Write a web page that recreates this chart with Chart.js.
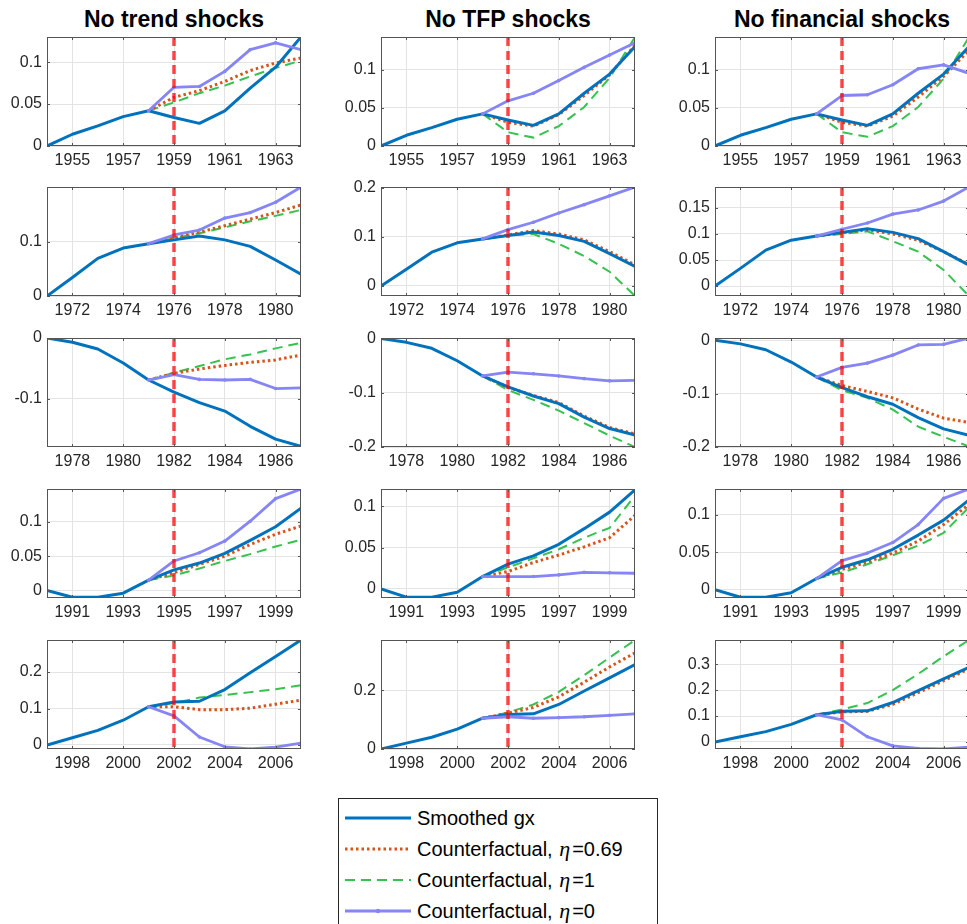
<!DOCTYPE html>
<html>
<head>
<meta charset="utf-8">
<script src="https://cdn.jsdelivr.net/npm/chart.js@4.4.1/dist/chart.umd.min.js"></script>
<style>
html,body{margin:0;padding:0;background:#fff;overflow:hidden;width:967px;height:924px;}
body{position:relative;font-family:"Liberation Sans",Arial,Helvetica,sans-serif;}
.title{position:absolute;top:6px;width:254px;text-align:center;font-weight:bold;font-size:23px;line-height:26px;color:#000;white-space:nowrap;}
.panel{position:absolute;}
#legend{position:absolute;left:338px;top:798px;width:320px;height:130px;border:1px solid #262626;background:#fff;box-sizing:border-box;}
.item{position:absolute;left:6px;height:30px;display:flex;align-items:center;font-size:20px;color:#000;white-space:nowrap;}
.item svg{margin-right:6px;}
.eta{font-family:"Liberation Serif","DejaVu Serif",serif;font-style:italic;font-size:22px;margin:0 2px 0 1px;}
</style>
</head>
<body>
<div class="title" style="left:47px">No trend shocks</div>
<div class="title" style="left:381px">No TFP shocks</div>
<div class="title" style="left:715px">No financial shocks</div>

<div id="legend">
  <div class="item" style="top:4px"><svg width="66" height="30"><line x1="0" y1="15" x2="66" y2="15" stroke="#0072BD" stroke-width="3"/></svg><span>Smoothed gx</span></div>
  <div class="item" style="top:35px"><svg width="66" height="30"><line x1="0" y1="15" x2="66" y2="15" stroke="#D95319" stroke-width="3" stroke-dasharray="2.5,3"/></svg><span>Counterfactual, <span class="eta">η</span>=0.69</span></div>
  <div class="item" style="top:66px"><svg width="66" height="30"><line x1="0" y1="15" x2="66" y2="15" stroke="#35c24f" stroke-width="2" stroke-dasharray="10,6"/></svg><span>Counterfactual, <span class="eta">η</span>=1</span></div>
  <div class="item" style="top:97px"><svg width="66" height="30"><line x1="0" y1="15" x2="66" y2="15" stroke="#8585f5" stroke-width="2.8"/><circle cx="33" cy="15" r="2.2" fill="#8585f5"/></svg><span>Counterfactual, <span class="eta">η</span>=0</span></div>
</div>

<script>
// ---------------- DATA ----------------
const columnTitles = ["No trend shocks", "No TFP shocks", "No financial shocks"];

// Row 1
const years1   = [1954,1955,1956,1957,1958,1959,1960,1961,1962,1963,1964];
const cfYears1 = [1958,1959,1960,1961,1962,1963,1964];
const shock1 = 1959;
const xTicks1 = [1955,1957,1959,1961,1963];
const gx1 = [0,0.014,0.024,0.035,0.042,0.034,0.027,0.042,0.069,0.094,0.130];
const trend1_eta069 = [0.042,0.058,0.066,0.077,0.090,0.099,0.105];
const trend1_eta1   = [0.042,0.052,0.063,0.072,0.083,0.093,0.102];
const trend1_eta0   = [0.042,0.070,0.071,0.089,0.115,0.123,0.115];
const tfp1_eta069   = [0.042,0.031,0.026,0.041,0.066,0.093,0.132];
const tfp1_eta1     = [0.042,0.018,0.011,0.026,0.051,0.089,0.1425];
const tfp1_eta0     = [0.042,0.059,0.069,0.0855,0.103,0.119,0.135];
const fin1_eta069   = [0.042,0.031,0.026,0.039,0.064,0.091,0.125];
const fin1_eta1     = [0.042,0.018,0.012,0.026,0.051,0.088,0.1425];
const fin1_eta0     = [0.042,0.066,0.067,0.080,0.101,0.106,0.095];

// Row 2
const years2   = [1971,1972,1973,1974,1975,1976,1977,1978,1979,1980,1981];
const cfYears2 = [1975,1976,1977,1978,1979,1980,1981];
const shock2 = 1976;
const xTicks2 = [1972,1974,1976,1978,1980];
const gx2 = [0,0.034,0.069,0.088,0.096,0.103,0.110,0.103,0.091,0.066,0.040];
const trend2_eta069 = [0.096,0.107,0.117,0.129,0.141,0.153,0.167];
const trend2_eta1   = [0.096,0.106,0.115,0.126,0.137,0.147,0.158];
const trend2_eta0   = [0.096,0.112,0.121,0.143,0.153,0.172,0.200];
const tfp2_eta069   = [0.096,0.104,0.113,0.106,0.094,0.070,0.043];
const tfp2_eta1     = [0.096,0.103,0.106,0.086,0.061,0.029,-0.0205];
const tfp2_eta0     = [0.096,0.115,0.130,0.149,0.166,0.184,0.202];
const fin2_eta069   = [0.096,0.102,0.108,0.100,0.088,0.066,0.041];
const fin2_eta1     = [0.096,0.100,0.105,0.086,0.066,0.031,-0.019];
const fin2_eta0     = [0.096,0.109,0.121,0.138,0.146,0.163,0.190];

// Row 3
const years3   = [1977,1978,1979,1980,1981,1982,1983,1984,1985,1986,1987];
const cfYears3 = [1981,1982,1983,1984,1985,1986,1987];
const shock3 = 1982;
const xTicks3 = [1978,1980,1982,1984,1986];
const gx3 = [0,-0.007,-0.018,-0.041,-0.069,-0.089,-0.106,-0.120,-0.145,-0.166,-0.178];
const trend3_eta069 = [-0.069,-0.058,-0.051,-0.045,-0.040,-0.036,-0.028];
const trend3_eta1   = [-0.069,-0.057,-0.046,-0.035,-0.027,-0.017,-0.008];
const trend3_eta0   = [-0.069,-0.060,-0.068,-0.069,-0.068,-0.083,-0.082];
const tfp3_eta069   = [-0.069,-0.090,-0.105,-0.118,-0.143,-0.164,-0.176];
const tfp3_eta1     = [-0.069,-0.095,-0.113,-0.133,-0.156,-0.179,-0.200];
const tfp3_eta0     = [-0.069,-0.062,-0.065,-0.069,-0.074,-0.078,-0.077];
const fin3_eta069   = [-0.069,-0.085,-0.096,-0.108,-0.129,-0.146,-0.154];
const fin3_eta1     = [-0.069,-0.094,-0.108,-0.130,-0.162,-0.181,-0.199];
const fin3_eta0     = [-0.069,-0.051,-0.043,-0.028,-0.009,-0.008,0.004];

// Row 4
const years4   = [1990,1991,1992,1993,1994,1995,1996,1997,1998,1999,2000];
const cfYears4 = [1994,1995,1996,1997,1998,1999,2000];
const shock4 = 1995;
const xTicks4 = [1991,1993,1995,1997,1999];
const gx4 = [0,-0.010,-0.010,-0.004,0.015,0.030,0.040,0.054,0.073,0.093,0.120];
const trend4_eta069 = [0.015,0.026,0.038,0.050,0.067,0.082,0.094];
const trend4_eta1   = [0.015,0.022,0.032,0.043,0.053,0.064,0.074];
const trend4_eta0   = [0.015,0.043,0.055,0.072,0.101,0.134,0.148];
const tfp4_eta069   = [0.015,0.021,0.032,0.041,0.051,0.062,0.089];
const tfp4_eta1     = [0.015,0.026,0.037,0.048,0.062,0.074,0.113];
const tfp4_eta0     = [0.015,0.015,0.015,0.017,0.020,0.0195,0.019];
const fin4_eta069   = [0.015,0.027,0.037,0.049,0.065,0.087,0.114];
const fin4_eta1     = [0.015,0.023,0.034,0.046,0.059,0.076,0.110];
const fin4_eta0     = [0.015,0.039,0.049,0.063,0.087,0.122,0.1345];

// Row 5
const years5   = [1997,1998,1999,2000,2001,2002,2003,2004,2005,2006,2007];
const cfYears5 = [2001,2002,2003,2004,2005,2006,2007];
const shock5 = 2002;
const xTicks5 = [1998,2000,2002,2004,2006];
const gx5 = [0,0.020,0.040,0.068,0.105,0.118,0.120,0.152,0.198,0.243,0.288];
const trend5_eta069 = [0.105,0.105,0.097,0.097,0.101,0.112,0.123];
const trend5_eta1   = [0.105,0.115,0.130,0.137,0.145,0.153,0.164];
const trend5_eta0   = [0.105,0.080,0.022,-0.005,-0.011,-0.006,0.005];
const tfp5_eta069   = [0.105,0.122,0.142,0.178,0.228,0.280,0.328];
const tfp5_eta1     = [0.105,0.125,0.152,0.195,0.252,0.312,0.372];
const tfp5_eta0     = [0.105,0.110,0.105,0.107,0.110,0.115,0.120];
const fin5_eta069   = [0.105,0.116,0.118,0.145,0.190,0.236,0.282];
const fin5_eta1     = [0.105,0.125,0.150,0.200,0.262,0.330,0.393];
const fin5_eta0     = [0.105,0.085,0.020,-0.015,-0.025,-0.027,-0.020];

// y-axis limits and ticks per panel [row][col]
const yLimits = [
  [[0,0.13],[0,0.1425],[0,0.1425]],
  [[0,0.2],[-0.0205,0.202],[-0.019,0.19]],
  [[-0.179,0],[-0.2,0.001],[-0.2,0.004]],
  [[-0.011,0.148],[-0.011,0.121],[-0.011,0.1345]],
  [[-0.011,0.288],[0,0.372],[-0.027,0.393]]
];
const yTicks = [
  [[0,0.05,0.1],[0,0.05,0.1],[0,0.05,0.1]],
  [[0,0.1],[0,0.1,0.2],[0,0.05,0.1,0.15]],
  [[-0.1,0],[-0.2,-0.1,0],[-0.2,-0.1,0]],
  [[0,0.05,0.1],[0,0.05,0.1],[0,0.05,0.1]],
  [[0,0.1,0.2],[0,0.2],[0,0.1,0.2,0.3]]
];

const rows = [
  {years:years1, cfYears:cfYears1, gx:gx1, shock:shock1, xTicks:xTicks1,
   cols:[[trend1_eta069,trend1_eta1,trend1_eta0],[tfp1_eta069,tfp1_eta1,tfp1_eta0],[fin1_eta069,fin1_eta1,fin1_eta0]]},
  {years:years2, cfYears:cfYears2, gx:gx2, shock:shock2, xTicks:xTicks2,
   cols:[[trend2_eta069,trend2_eta1,trend2_eta0],[tfp2_eta069,tfp2_eta1,tfp2_eta0],[fin2_eta069,fin2_eta1,fin2_eta0]]},
  {years:years3, cfYears:cfYears3, gx:gx3, shock:shock3, xTicks:xTicks3,
   cols:[[trend3_eta069,trend3_eta1,trend3_eta0],[tfp3_eta069,tfp3_eta1,tfp3_eta0],[fin3_eta069,fin3_eta1,fin3_eta0]]},
  {years:years4, cfYears:cfYears4, gx:gx4, shock:shock4, xTicks:xTicks4,
   cols:[[trend4_eta069,trend4_eta1,trend4_eta0],[tfp4_eta069,tfp4_eta1,tfp4_eta0],[fin4_eta069,fin4_eta1,fin4_eta0]]},
  {years:years5, cfYears:cfYears5, gx:gx5, shock:shock5, xTicks:xTicks5,
   cols:[[trend5_eta069,trend5_eta1,trend5_eta0],[tfp5_eta069,tfp5_eta1,tfp5_eta0],[fin5_eta069,fin5_eta1,fin5_eta0]]}
];

// ---------------- STYLE / LAYOUT ----------------
const BLUE='#0072BD', RED='#D95319', GREEN='#35c24f', PURPLE='#8585f5';
const PLOT_LEFT=[47,381,715], PLOT_TOP=[37,187,338,489,640], PW=254, PH=109;
const YAX=45, XAX=30, PADT=12, PADR=10;
const FONT='"Liberation Sans", Arial, Helvetica, sans-serif';
Chart.defaults.font.family = FONT;

const vlinePlugin = {
  id:'vline',
  afterDatasetsDraw(chart, args, opts){
    const x = chart.scales.x.getPixelForValue(opts.value);
    const {top,bottom} = chart.chartArea;
    const ctx = chart.ctx;
    ctx.save();
    ctx.strokeStyle='rgba(255,0,0,0.72)';
    ctx.lineWidth=3.5;
    ctx.setLineDash([9,5]);
    ctx.beginPath(); ctx.moveTo(x,top); ctx.lineTo(x,bottom); ctx.stroke();
    ctx.restore();
  }
};
const boxPlugin = {
  id:'box',
  afterDraw(chart){
    const {left,right,top,bottom} = chart.chartArea;
    const ctx = chart.ctx;
    ctx.save();
    ctx.strokeStyle='#555';
    ctx.lineWidth=1;
    ctx.strokeRect(left+0.5, top+0.5, right-left-1, bottom-top-1);
    const tl=3;
    ctx.beginPath();
    chart.scales.x.ticks.forEach(t=>{
      const px=Math.round(chart.scales.x.getPixelForValue(t.value))+0.5;
      ctx.moveTo(px,bottom); ctx.lineTo(px,bottom-tl);
      ctx.moveTo(px,top); ctx.lineTo(px,top+tl);
    });
    chart.scales.y.ticks.forEach(t=>{
      const py=Math.round(chart.scales.y.getPixelForValue(t.value))+0.5;
      ctx.moveTo(left,py); ctx.lineTo(left+tl,py);
      ctx.moveTo(right,py); ctx.lineTo(right-tl,py);
    });
    ctx.stroke();
    ctx.restore();
  }
};

function pts(xs, ys){ return xs.map((x,i)=>({x:x, y:ys[i]})); }

function makePanel(r, c){
  const row = rows[r];
  const [cfRed, cfGreen, cfPurple] = row.cols[c];
  const div=document.createElement('div');
  div.className='panel';
  div.style.left=(PLOT_LEFT[c]-YAX)+'px';
  div.style.top=(PLOT_TOP[r]-PADT)+'px';
  const cv=document.createElement('canvas');
  const W=YAX+PW+PADR, H=PADT+PH+XAX;
  cv.width=W; cv.height=H; cv.style.width=W+'px'; cv.style.height=H+'px';
  div.appendChild(cv); document.body.appendChild(div);
  const xt=row.xTicks, yt=yTicks[r][c], yl=yLimits[r][c];
  new Chart(cv,{
    type:'line',
    data:{datasets:[
      {label:'Smoothed gx', data:pts(row.years,row.gx), order:1, borderColor:BLUE, borderWidth:3, pointRadius:0, tension:0, borderJoinStyle:'round'},
      {label:'Counterfactual, η=0.69', data:pts(row.cfYears,cfRed), order:2, borderColor:RED, borderWidth:3, borderDash:[2.5,3], pointRadius:0, tension:0},
      {label:'Counterfactual, η=1', data:pts(row.cfYears,cfGreen), order:3, borderColor:GREEN, borderWidth:2, borderDash:[10,6], pointRadius:0, tension:0},
      {label:'Counterfactual, η=0', data:pts(row.cfYears,cfPurple), order:0, borderColor:PURPLE, borderWidth:2.8, pointRadius:1.8, pointBorderWidth:0, pointBackgroundColor:PURPLE, tension:0, borderJoinStyle:'round'}
    ]},
    options:{
      responsive:false, animation:false, events:[],
      layout:{padding:{top:PADT,right:PADR,left:0,bottom:0}},
      plugins:{legend:{display:false}, tooltip:{enabled:false}, vline:{value:row.shock}},
      scales:{
        x:{type:'linear', min:row.years[0], max:row.years[row.years.length-1],
           afterBuildTicks:s=>{s.ticks=xt.map(v=>({value:v}));},
           afterFit:s=>{s.height=XAX; s.paddingLeft=0; s.paddingRight=0;},
           grid:{color:'#e4e4e4', lineWidth:1, drawTicks:false},
           border:{display:false},
           ticks:{font:{size:16,family:FONT}, color:'#262626', padding:5, maxRotation:0, autoSkip:false, callback:v=>String(v)}},
        y:{type:'linear', min:yl[0], max:yl[1],
           afterBuildTicks:s=>{s.ticks=yt.map(v=>({value:v}));},
           afterFit:s=>{s.width=YAX; s.paddingTop=0; s.paddingBottom=0;},
           grid:{color:'#e4e4e4', lineWidth:1, drawTicks:false},
           border:{display:false},
           ticks:{font:{size:16,family:FONT}, color:'#262626', padding:5, autoSkip:false, callback:v=>String(v)}}
      }
    },
    plugins:[vlinePlugin, boxPlugin]
  });
}

for(let r=0;r<5;r++) for(let c=0;c<3;c++) makePanel(r,c);
</script>
</body>
</html>
